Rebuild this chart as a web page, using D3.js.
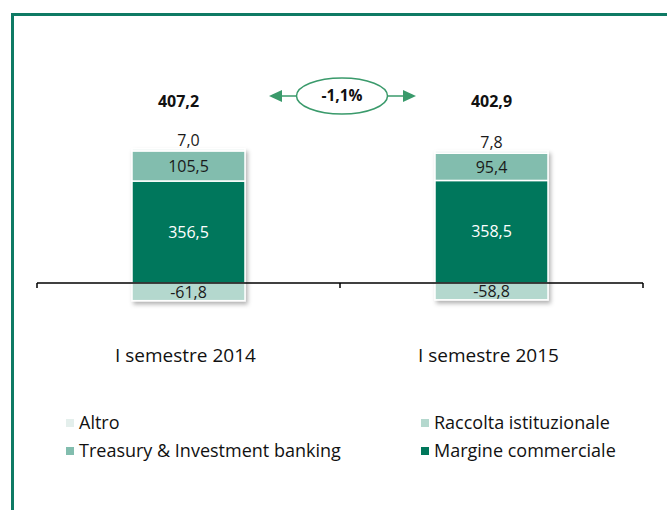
<!DOCTYPE html>
<html>
<head>
<meta charset="utf-8">
<script src="https://cdn.jsdelivr.net/npm/d3@7"></script>
<style>
  body { margin: 0; background: #fff; }
  text { font-family: "Open Sans", Lato, sans-serif; }
</style>
</head>
<body>
<div id="chart"></div>
<script>
const categories = ["I semestre 2014", "I semestre 2015"];
const seriesNames = ["Raccolta istituzionale", "Margine commerciale", "Treasury & Investment banking", "Altro"];
const raccolta = [-61.8, -58.8];
const margine = [356.5, 358.5];
const treasury = [105.5, 95.4];
const altro = [7.0, 7.8];
const totals = [407.2, 402.9];
const changeLabel = "-1,1%";

const colors = {
  "Raccolta istituzionale": "#b4d8ce",
  "Margine commerciale": "#00775b",
  "Treasury & Investment banking": "#82bdae",
  "Altro": "#e4efec"
};
const labelColors = {
  "Raccolta istituzionale": "#1a1a1a",
  "Margine commerciale": "#ffffff",
  "Treasury & Investment banking": "#1a1a1a",
  "Altro": "#1a1a1a"
};

const W = 667, H = 510;
const fmt = v => d3.format(".1f")(v).replace(".", ",").replace("\u2212", "-");

const svg = d3.select("#chart").append("svg")
    .attr("width", W)
    .attr("height", H);

// drop shadow for bars
const defs = svg.append("defs");
const f = defs.append("filter").attr("id", "shadow")
    .attr("x", "-20%").attr("y", "-20%").attr("width", "140%").attr("height", "140%");
f.append("feDropShadow")
    .attr("dx", 2).attr("dy", 3).attr("stdDeviation", 2)
    .attr("flood-color", "#000").attr("flood-opacity", 0.3);

// frame
svg.append("path")
    .attr("d", "M12.5," + H + " V14.5 H" + W)
    .attr("fill", "none")
    .attr("stroke", "#0f7a64")
    .attr("stroke-width", 3);

const xScale = d3.scaleBand()
    .domain(categories)
    .range([37, 643])
    .paddingInner(0)
    .paddingOuter(0);

const yScale = d3.scaleLinear()
    .domain([0, 100])
    .range([283, 254.4]);

const barW = 113;

// build stacks (negative goes below zero, positives stacked up)
const table = categories.map((c, i) => {
  const segs = [];
  segs.push({name: "Raccolta istituzionale", v: raccolta[i], y0: raccolta[i], y1: 0});
  let base = 0;
  [["Margine commerciale", margine[i]], ["Treasury & Investment banking", treasury[i]], ["Altro", altro[i]]]
    .forEach(([n, v]) => {
      segs.push({name: n, v: v, y0: base, y1: base + v});
      base += v;
    });
  return {cat: c, segs: segs, top: base};
});

const groups = svg.selectAll("g.bar")
    .data(table)
    .enter().append("g")
    .attr("class", "bar")
    .attr("transform", d => `translate(${xScale(d.cat) + xScale.bandwidth() / 2 - barW / 2},0)`);

groups.append("g")
    .attr("filter", "url(#shadow)")
    .selectAll("rect")
    .data(d => d.segs)
    .enter().append("rect")
    .attr("x", 0)
    .attr("width", barW)
    .attr("y", d => yScale(d.y1))
    .attr("height", d => yScale(d.y0) - yScale(d.y1))
    .attr("fill", d => colors[d.name])
    .attr("stroke", "#fff")
    .attr("stroke-width", 1.5);

groups.selectAll("text.val")
    .data(d => d.segs)
    .enter().append("text")
    .attr("class", "val")
    .attr("x", barW / 2)
    .attr("y", d => d.name === "Altro" ? yScale(d.y1) - 3 : (yScale(d.y0) + yScale(d.y1)) / 2)
    .attr("dy", d => d.name === "Altro" ? 0 : "0.36em")
    .attr("text-anchor", "middle")
    .attr("font-size", 16)
    .attr("fill", d => labelColors[d.name])
    .text(d => fmt(d.v));

// zero axis
svg.append("line")
    .attr("x1", 37).attr("x2", 643)
    .attr("y1", yScale(0)).attr("y2", yScale(0))
    .attr("stroke", "#000").attr("stroke-width", 1.5);
[37, 643].concat(categories.slice(1).map(c => xScale(c))).forEach(x => {
  svg.append("line")
      .attr("x1", x).attr("x2", x)
      .attr("y1", yScale(0)).attr("y2", yScale(0) + 5)
      .attr("stroke", "#000").attr("stroke-width", 1.5);
});

// category labels
svg.selectAll("text.cat")
    .data(categories)
    .enter().append("text")
    .attr("class", "cat")
    .attr("x", d => xScale(d) + xScale.bandwidth() / 2 - 3)
    .attr("y", 362)
    .attr("text-anchor", "middle")
    .attr("font-size", 19)
    .attr("fill", "#111")
    .text(d => d);

// totals
const totalShift = [-10, 0];
svg.selectAll("text.tot")
    .data(totals)
    .enter().append("text")
    .attr("class", "tot")
    .attr("x", (d, i) => xScale(categories[i]) + xScale.bandwidth() / 2 + totalShift[i])
    .attr("y", 107)
    .attr("text-anchor", "middle")
    .attr("font-size", 16)
    .attr("font-weight", "bold")
    .attr("fill", "#111")
    .text(d => fmt(d));

// change bubble with arrows
const cx = 342, cy = 96;
const green = "#3a9a6b";
svg.append("ellipse")
    .attr("cx", cx).attr("cy", cy).attr("rx", 45.5).attr("ry", 18)
    .attr("fill", "#fff").attr("stroke", green).attr("stroke-width", 1.5);
svg.append("text")
    .attr("x", cx).attr("y", cy + 5)
    .attr("text-anchor", "middle")
    .attr("font-size", 15.5)
    .attr("font-weight", "bold")
    .attr("fill", "#111")
    .text(changeLabel);
[[cx - 45.5, 269], [cx + 45.5, 416]].forEach(([from, tip]) => {
  const dir = tip < from ? -1 : 1;
  svg.append("line")
      .attr("x1", from).attr("x2", tip - dir * 10)
      .attr("y1", cy).attr("y2", cy)
      .attr("stroke", green).attr("stroke-width", 1.5);
  svg.append("path")
      .attr("d", `M${tip},${cy} L${tip - dir * 13},${cy - 6} L${tip - dir * 13},${cy + 6} Z`)
      .attr("fill", green);
});

// legend
const legendItems = [
  {name: "Altro", x: 66, y: 423},
  {name: "Raccolta istituzionale", x: 421, y: 423},
  {name: "Treasury & Investment banking", x: 66, y: 451},
  {name: "Margine commerciale", x: 421, y: 451}
];
const leg = svg.selectAll("g.leg")
    .data(legendItems)
    .enter().append("g")
    .attr("class", "leg")
    .attr("transform", d => `translate(${d.x},${d.y})`);
leg.append("rect")
    .attr("x", 0).attr("y", -4)
    .attr("width", 8).attr("height", 8)
    .attr("fill", d => colors[d.name]);
leg.append("text")
    .attr("x", 13).attr("y", 0)
    .attr("dy", "0.36em")
    .attr("font-size", 18)
    .attr("fill", "#111")
    .text(d => d.name);
</script>
</body>
</html>
